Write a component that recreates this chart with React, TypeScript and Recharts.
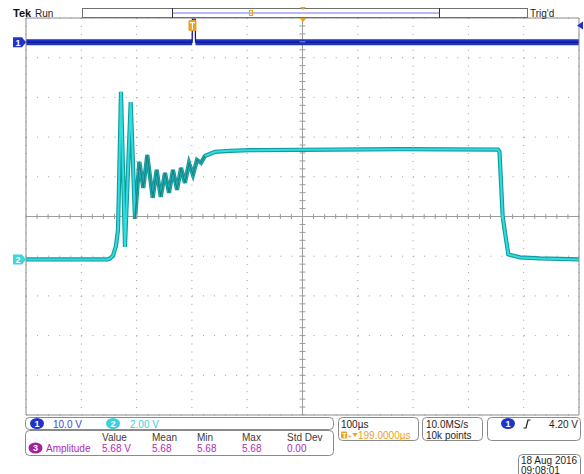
import {
  CartesianGrid,
  ComposedChart,
  Line,
  ReferenceDot,
  ReferenceLine,
  Scatter,
  XAxis,
  YAxis
} from "recharts";

// scope setup
const TIME_SPAN = 1000; // µs across the screen (100 µs/div)
const H_DELAY = 199; // µs from trigger to screen centre
const TRIG_T = TIME_SPAN / 2 - H_DELAY;
const TRIG_LEVEL = 4.2; // V on ch1
const CH1_SCALE = 10; // V/div
const CH1_POS = 4.39; // div
const CH2_SCALE = 2; // V/div
const CH2_POS = -1.08; // div

const TIME_TICKS = [0, 100, 200, 300, 400, 500, 600, 700, 800, 900, 1000];
const DIV_TICKS = [-5, -4, -3, -2, -1, 0, 1, 2, 3, 4, 5];
const MINOR_T = Array.from({ length: 51 }, (_, i) => i * 20);
const MINOR_D = Array.from({ length: 51 }, (_, i) => -5 + i * 0.2);

// ch1: flat, one narrow pulse at the trigger
const CH1 = [
  { t: 0, v: 0 },
  { t: 300.5, v: 0 },
  { t: 301, v: 5.8 },
  { t: 306, v: 5.8 },
  { t: 306.5, v: 0 },
  { t: 1000, v: 0 }
];

// ch2 (V)
const CH2 = [
  { t: 0, v: 0 },
  { t: 148, v: 0 },
  { t: 152, v: 0.05 },
  { t: 157.3, v: 0.18 },
  { t: 162.7, v: 0.68 },
  { t: 166.4, v: 1.49 },
  { t: 171.8, v: 8.44 },
  { t: 179, v: 0.63 },
  { t: 189.3, v: 7.93 },
  { t: 197.1, v: 2.04 },
  { t: 204.9, v: 4.91 },
  { t: 212.1, v: 3.6 },
  { t: 219.3, v: 5.26 },
  { t: 229.1, v: 3.1 },
  { t: 236.3, v: 4.51 },
  { t: 243.6, v: 3.15 },
  { t: 251.4, v: 4.36 },
  { t: 258.6, v: 3.35 },
  { t: 265.8, v: 4.51 },
  { t: 273.1, v: 3.5 },
  { t: 280.3, v: 4.61 },
  { t: 287.5, v: 3.85 },
  { t: 294.8, v: 4.86 },
  { t: 302, v: 4.26 },
  { t: 309.2, v: 5.01 },
  { t: 316.5, v: 4.86 },
  { t: 323.7, v: 5.21 },
  { t: 341.8, v: 5.42 },
  { t: 368.9, v: 5.47 },
  { t: 405, v: 5.5 },
  { t: 495.5, v: 5.52 },
  { t: 676.3, v: 5.55 },
  { t: 853.5, v: 5.53 },
  { t: 856.2, v: 5.42 },
  { t: 862, v: 2.16 },
  { t: 866.2, v: 1.34 },
  { t: 872.2, v: 0.25 },
  { t: 893.3, v: 0.1 },
  { t: 929.5, v: 0.05 },
  { t: 1000, v: 0 }
];

// the noisy band only exists at the low level
const CH1_BAND = CH1.map((p) => ({ t: p.t, v: p.v > 1 ? null : p.v }));
// ringing part of ch2 is drawn darker (dense persistence)
const CH2_RING = CH2.filter((p) => p.t >= 197 && p.t <= 330);
const CENTER_H = MINOR_T.map((t) => ({ t, d: 0 }));
const CENTER_V = MINOR_D.map((d) => ({ t: TIME_SPAN / 2, d }));

const GRID = "#9c9c9c";
const FRAME = "#8a8a8a";
const BLUE = "#1f33c9";
const CYAN = "#2fdede";
const FONT = "'Liberation Sans', Arial, sans-serif";

function ChMarker(props: any) {
  const { cx, cy, fill, label } = props;
  const x = cx - 13;
  return (
    <g>
      <polygon
        points={`${x},${cy - 5} ${x + 9},${cy - 5} ${x + 13},${cy} ${x + 9},${cy + 5} ${x},${cy + 5}`}
        fill={fill}
      />
      <text x={x + 5} y={cy + 3.5} fontSize={9} fill="#fff" textAnchor="middle" fontFamily={FONT} fontWeight="bold">
        {label}
      </text>
    </g>
  );
}

function Badge({ cx, cy, fill, label }: { cx: number; cy: number; fill: string; label: string }) {
  return (
    <g>
      <ellipse cx={cx} cy={cy} rx={7} ry={5.5} fill={fill} />
      <text x={cx} y={cy + 3.3} fontSize={9} fill="#fff" textAnchor="middle" fontWeight="bold">
        {label}
      </text>
    </g>
  );
}

function Overlay() {
  const dark = "#1e1e1e";
  const mag = "#b02ab6";
  return (
    <svg
      width={584}
      height={474}
      style={{ position: "absolute", left: 0, top: 0, pointerEvents: "none" }}
      fontFamily={FONT}
      fontSize={10}
    >
      {/* header */}
      <text x={13} y={16.5} fontSize={11} fontWeight="bold" fill="#111">Tek</text>
      <text x={35} y={16.5} fill={dark}>Run</text>
      <rect x={82.5} y={8.5} width={445} height={9} fill="#fff" stroke="#707070" />
      <line x1={172.5} y1={8} x2={172.5} y2={18} stroke="#333" />
      <line x1={439.5} y1={8} x2={439.5} y2={18} stroke="#333" />
      <line x1={173} y1={13} x2={439} y2={13} stroke="#6f78e6" strokeWidth={1.2} />
      <rect x={249.5} y={10.5} width={3} height={5} fill="none" stroke="#f0a020" />
      <polygon points="300,7 306,7 303,10" fill="#f0a020" />
      <polygon points="299.5,18 306.5,18 303,22" fill="#f0a020" />
      <text x={530} y={16.5} fill={dark}>Trig'd</text>

      {/* channel scales */}
      <rect x={25.5} y={417.5} width={308} height={12} rx={4} fill="#fff" stroke={FRAME} />
      <Badge cx={37} cy={423.5} fill={BLUE} label="1" />
      <text x={53} y={427.5} fill="#3d48d6">10.0 V</text>
      <Badge cx={113} cy={423.5} fill="#3cd2dc" label="2" />
      <text x={130} y={427.5} fill="#39d0dc">2.00 V</text>

      {/* measurement */}
      <rect x={25.5} y={430.5} width={308} height={25} rx={4} fill="#fff" stroke={FRAME} />
      <g fill="#3a3a3a">
        <text x={102} y={440.5}>Value</text>
        <text x={152} y={440.5}>Mean</text>
        <text x={197} y={440.5}>Min</text>
        <text x={242} y={440.5}>Max</text>
        <text x={287} y={440.5}>Std Dev</text>
      </g>
      <Badge cx={35.5} cy={448} fill="#a0229e" label="3" />
      <g fill={mag}>
        <text x={46} y={452}>Amplitude</text>
        <text x={102} y={452}>5.68 V</text>
        <text x={152} y={452}>5.68</text>
        <text x={197} y={452}>5.68</text>
        <text x={242} y={452}>5.68</text>
        <text x={287} y={452}>0.00</text>
      </g>

      {/* horizontal */}
      <rect x={338.5} y={417.5} width={80} height={23} rx={4} fill="#fff" stroke={FRAME} />
      <text x={341} y={427.5} fill={dark}>100µs</text>
      <rect x={341} y={431.5} width={6} height={7} rx={1} fill="#f0a020" />
      <text x={342.2} y={437.8} fontSize={7} fill="#fff" fontWeight="bold">T</text>
      <text x={347.5} y={438.5} fontSize={8} fill="#f0a020">+</text>
      <polygon points="352.5,433 357.5,433 355,437" fill="#f0a020" />
      <text x={358} y={439} fill="#f0a020">199.0000µs</text>

      <rect x={422.5} y={417.5} width={60} height={23} rx={4} fill="#fff" stroke={FRAME} />
      <text x={426} y={427.5} fill={dark}>10.0MS/s</text>
      <text x={426} y={438.5} fill={dark}>10k points</text>

      {/* trigger */}
      <rect x={487.5} y={417.5} width={93} height={23} rx={4} fill="#fff" stroke={FRAME} />
      <Badge cx={508} cy={423.5} fill={BLUE} label="1" />
      <path d="M523.5,428 L526,428 L528,420 L530.5,420" fill="none" stroke={dark} strokeWidth={1.2} />
      <text x={578} y={427.5} fill={dark} textAnchor="end">4.20 V</text>

      {/* date */}
      <rect x={518.5} y={454.5} width={62} height={24} rx={4} fill="#fff" stroke={FRAME} />
      <text x={521} y={464} fill={dark}>18 Aug 2016</text>
      <text x={521} y={473.5} fill={dark}>09:08:01</text>
    </svg>
  );
}

export default function App() {
  const c1Domain = [(-5 - CH1_POS) * CH1_SCALE, (5 - CH1_POS) * CH1_SCALE];
  const c2Domain = [(-5 - CH2_POS) * CH2_SCALE, (5 - CH2_POS) * CH2_SCALE];
  return (
    <div style={{ position: "absolute", left: 0, top: 0, width: 584, height: 474, background: "#fff" }}>
      <ComposedChart width={584} height={474} margin={{ top: 18, right: 5, bottom: 59, left: 26 }}>
        <XAxis xAxisId="t" dataKey="t" type="number" domain={[0, TIME_SPAN]} ticks={TIME_TICKS} hide allowDataOverflow />
        <XAxis
          xAxisId="bt"
          orientation="bottom"
          mirror
          type="number"
          domain={[0, TIME_SPAN]}
          ticks={MINOR_T}
          interval={0}
          tick={false}
          tickSize={3}
          stroke={FRAME}
          allowDataOverflow
        />
        <XAxis
          xAxisId="tt"
          orientation="top"
          mirror
          type="number"
          domain={[0, TIME_SPAN]}
          ticks={MINOR_T}
          interval={0}
          tick={false}
          tickSize={3}
          stroke={FRAME}
          allowDataOverflow
        />
        <YAxis yAxisId="div" dataKey="d" type="number" domain={[-5, 5]} ticks={DIV_TICKS} hide allowDataOverflow />
        <YAxis
          yAxisId="ld"
          orientation="left"
          mirror
          type="number"
          domain={[-5, 5]}
          ticks={MINOR_D}
          interval={0}
          tick={false}
          tickSize={3}
          stroke={FRAME}
          allowDataOverflow
        />
        <YAxis
          yAxisId="rd"
          orientation="right"
          mirror
          type="number"
          domain={[-5, 5]}
          ticks={MINOR_D}
          interval={0}
          tick={false}
          tickSize={3}
          stroke={FRAME}
          allowDataOverflow
        />
        <YAxis yAxisId="c1" type="number" domain={c1Domain} hide allowDataOverflow />
        <YAxis yAxisId="c2" type="number" domain={c2Domain} hide allowDataOverflow />

        <CartesianGrid xAxisId="t" yAxisId="div" vertical={false} stroke={GRID} strokeDasharray="1 10.06" />
        <CartesianGrid xAxisId="t" yAxisId="div" horizontal={false} stroke={GRID} strokeDasharray="1 6.94" />
        <ReferenceLine xAxisId="t" yAxisId="div" y={0} stroke={GRID} />
        <ReferenceLine xAxisId="t" yAxisId="div" x={TIME_SPAN / 2} stroke={GRID} />
        <Scatter
          xAxisId="t"
          yAxisId="div"
          data={CENTER_H}
          dataKey="d"
          isAnimationActive={false}
          shape={(p: any) => <line x1={p.cx} x2={p.cx} y1={p.cy - 2.5} y2={p.cy + 2.5} stroke={GRID} />}
        />
        <Scatter
          xAxisId="t"
          yAxisId="div"
          data={CENTER_V}
          dataKey="d"
          isAnimationActive={false}
          shape={(p: any) => <line x1={p.cx - 3} x2={p.cx + 3} y1={p.cy} y2={p.cy} stroke={GRID} />}
        />

        <Line xAxisId="t" yAxisId="c1" data={CH1_BAND} dataKey="v" type="linear" stroke={BLUE} strokeWidth={6} dot={false} isAnimationActive={false} />
        <Line xAxisId="t" yAxisId="c1" data={CH1} dataKey="v" type="linear" stroke="#0e1a8c" strokeWidth={1.3} dot={false} isAnimationActive={false} />
        <Line xAxisId="t" yAxisId="c2" data={CH2} dataKey="v" type="linear" stroke="#14999e" strokeWidth={4.2} dot={false} isAnimationActive={false} />
        <Line xAxisId="t" yAxisId="c2" data={CH2} dataKey="v" type="linear" stroke={CYAN} strokeWidth={2} dot={false} isAnimationActive={false} />
        <Line xAxisId="t" yAxisId="c2" data={CH2_RING} dataKey="v" type="linear" stroke="#1a8486" strokeWidth={1.6} dot={false} isAnimationActive={false} />

        <ReferenceDot xAxisId="t" yAxisId="c1" x={0} y={0} shape={(p: any) => <ChMarker {...p} fill={BLUE} label="1" />} />
        <ReferenceDot xAxisId="t" yAxisId="c2" x={0} y={0} shape={(p: any) => <ChMarker {...p} fill="#3cd6dc" label="2" />} />
        <ReferenceDot
          xAxisId="t"
          yAxisId="c1"
          x={TIME_SPAN}
          y={TRIG_LEVEL}
          shape={(p: any) => <polygon points={`${p.cx - 2},${p.cy} ${p.cx + 4},${p.cy - 4} ${p.cx + 4},${p.cy + 4}`} fill={BLUE} />}
        />
        <ReferenceDot
          xAxisId="t"
          yAxisId="c1"
          x={TRIG_T}
          y={TRIG_LEVEL}
          shape={(p: any) => (
            <g>
              <rect x={p.cx - 4} y={p.cy - 5.5} width={8} height={11} rx={1.5} fill="#f0a020" />
              <path d={`M${p.cx - 2.5},${p.cy - 3} H${p.cx + 2.5} M${p.cx},${p.cy - 3} V${p.cy + 4}`} stroke="#fff" strokeWidth={1.2} />
            </g>
          )}
        />
      </ComposedChart>
      <Overlay />
    </div>
  );
}
